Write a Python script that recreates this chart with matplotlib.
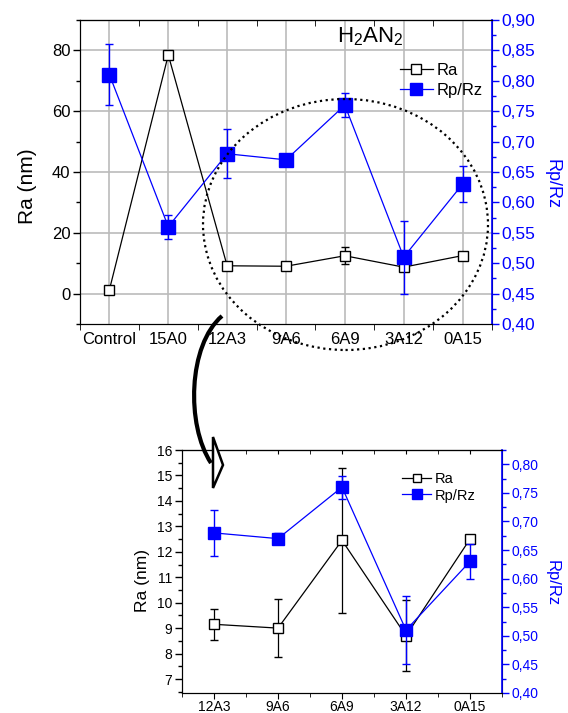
import numpy as np
import matplotlib
matplotlib.use("Agg")
import matplotlib.pyplot as plt
from matplotlib.patches import Ellipse, Polygon, PathPatch
from matplotlib.path import Path
from matplotlib.ticker import MultipleLocator, FuncFormatter, FixedLocator

plt.rcParams['font.family'] = ['Liberation Sans', 'DejaVu Sans']
plt.rcParams['mathtext.fontset'] = 'custom'
plt.rcParams['mathtext.rm'] = 'Liberation Sans'
plt.rcParams['mathtext.it'] = 'Liberation Sans'

# data
samples = ["Control", "15A0", "12A3", "9A6", "6A9", "3A12", "0A15"]
ra = [1.3, 78.5, 9.15, 9.0, 12.45, 8.7, 12.5]
ra_err = [1.0, 1.0, 0.62, 1.13, 2.85, 1.4, 0.08]
rprz = [0.81, 0.56, 0.68, 0.67, 0.76, 0.51, 0.63]
rprz_err = [0.05, 0.02, 0.04, 0.01, 0.02, 0.06, 0.03]

zoom_samples = samples[2:]
zoom_ra = ra[2:]
zoom_ra_err = ra_err[2:]
zoom_rprz = rprz[2:]
zoom_rprz_err = rprz_err[2:]

BLUE = "#0000ff"
W, H = 568, 713
fig = plt.figure(figsize=(W / 100, H / 100), dpi=100)


def px(x0, y0, x1, y1):
    return [x0 / W, 1 - y1 / H, (x1 - x0) / W, (y1 - y0) / H]


def fpt(xp, yp):
    return xp / W, 1 - yp / H


comma = FuncFormatter(lambda v, p: f"{v:.2f}".replace(".", ","))


def style_axes(ax, ax2, fs, fs2):
    ax.tick_params(axis="y", which="major", direction="out", length=5, width=1,
                   labelsize=fs, pad=2)
    ax.tick_params(axis="y", which="minor", direction="out", length=3, width=1)
    ax2.tick_params(axis="y", which="major", direction="out", length=5, width=1,
                    colors=BLUE, labelsize=fs2, pad=2)
    ax2.tick_params(axis="y", which="minor", direction="out", length=3, width=1, colors=BLUE)
    ax2.spines["right"].set_color(BLUE)
    ax2.spines["right"].set_linewidth(1.2)
    ax2.yaxis.set_major_formatter(comma)


# ---------- top chart ----------
ax = fig.add_axes(px(80, 20, 492, 324))
x = np.arange(len(samples))
ax.errorbar(x, ra, yerr=ra_err, color="black", lw=0.9, marker="s", ms=7,
            mfc="white", mec="black", mew=1, capsize=3, elinewidth=0.9, zorder=3)
ax.set_xlim(-0.5, len(samples) - 0.5)
ax.set_ylim(-10, 90)
ax.yaxis.set_major_locator(MultipleLocator(20))
ax.yaxis.set_minor_locator(MultipleLocator(10))
ax.set_xticks(x)
ax.set_xticklabels(samples, fontsize=12)
ax.xaxis.set_minor_locator(FixedLocator(np.arange(-0.5, len(samples), 1.0)))
ax.tick_params(axis="x", which="major", length=0, pad=6)
ax.tick_params(axis="x", which="minor", direction="out", length=4)
ax.grid(True, color="#bbbbbb", lw=1.2, which="major")
ax.set_axisbelow(True)
sec = ax.secondary_xaxis("top")
sec.set_xticks([])
sec.xaxis.set_minor_locator(FixedLocator(np.arange(-0.5, len(samples), 1.0)))
sec.tick_params(axis="x", which="minor", direction="in", length=4)

ax2 = ax.twinx()
ax2.errorbar(x, rprz, yerr=rprz_err, color=BLUE, lw=0.9, marker="s", ms=9.5,
             mfc=BLUE, mec=BLUE, capsize=3, elinewidth=1, zorder=3)
ax2.set_ylim(0.40, 0.90)
ax2.yaxis.set_major_locator(MultipleLocator(0.05))
ax2.yaxis.set_minor_locator(MultipleLocator(0.025))
style_axes(ax, ax2, 12, 12.5)

fig.text(*fpt(28, 186), "Ra (nm)", fontsize=15, rotation=90, ha="center", va="center")
fig.text(*fpt(552, 184), "Rp/Rz", fontsize=13, rotation=270, color=BLUE,
         ha="center", va="center")

h1 = ax.plot([], [], color="black", lw=0.9, marker="s", ms=7, mfc="white", mec="black")[0]
h2 = ax.plot([], [], color=BLUE, lw=0.9, marker="s", ms=8, mfc=BLUE, mec=BLUE)[0]
ax2.legend([h1, h2], ["Ra", "Rp/Rz"], loc="upper left", bbox_to_anchor=(0.76, 0.88),
           frameon=False, fontsize=12, handlelength=2.0, handletextpad=0.2,
           labelspacing=0.3, borderaxespad=0)
ax2.text(0.705, 0.945, r"H$_2$AN$_2$", transform=ax2.transAxes, fontsize=16,
         ha="center", va="center")

# dotted circle around the zoomed region
fig.add_artist(Ellipse((345.5 / W, 1 - 224.5 / H), 285 / W, 251 / H,
                       transform=fig.transFigure, fill=False, ls=(0, (1, 1.6)),
                       lw=1.6, color="black", zorder=10))

# curved arrow pointing to the zoom
verts = [(222, 316), (188, 345), (186, 425), (211, 463)]
verts = [fpt(vx, vy) for vx, vy in verts]
arrow_path = Path(verts, [Path.MOVETO, Path.CURVE4, Path.CURVE4, Path.CURVE4])
fig.add_artist(PathPatch(arrow_path, transform=fig.transFigure, fill=False,
                         lw=3, color="black", zorder=10))
head = [fpt(213, 437), fpt(223, 465), fpt(213, 488)]
fig.add_artist(Polygon(head, closed=True, transform=fig.transFigure,
                       facecolor="white", edgecolor="black", lw=1.8, zorder=11))

# ---------- bottom chart ----------
bx = fig.add_axes(px(182, 450, 502, 693))
xz = np.arange(len(zoom_samples))
bx.errorbar(xz, zoom_ra, yerr=zoom_ra_err, color="black", lw=0.9, marker="s", ms=7,
            mfc="white", mec="black", mew=1, capsize=3, elinewidth=0.9, zorder=3)
bx.set_xlim(-0.5, len(zoom_samples) - 0.5)
bx.set_ylim(6.45, 16)
bx.yaxis.set_major_locator(MultipleLocator(1))
bx.yaxis.set_minor_locator(MultipleLocator(0.5))
bx.set_xticks(xz)
bx.set_xticklabels(zoom_samples, fontsize=10)
bx.xaxis.set_minor_locator(FixedLocator(np.arange(-0.5, len(zoom_samples), 1.0)))
bx.tick_params(axis="x", which="major", direction="out", length=4, pad=1)
bx.tick_params(axis="x", which="minor", direction="out", length=3)
bsec = bx.secondary_xaxis("top")
bsec.set_xticks(xz)
bsec.set_xticklabels([])
bsec.xaxis.set_minor_locator(FixedLocator(np.arange(-0.5, len(zoom_samples), 1.0)))
bsec.tick_params(axis="x", which="both", direction="in", length=3)

bx2 = bx.twinx()
bx2.errorbar(xz, zoom_rprz, yerr=zoom_rprz_err, color=BLUE, lw=0.9, marker="s", ms=8,
             mfc=BLUE, mec=BLUE, capsize=3, elinewidth=1, zorder=3)
bx2.set_ylim(0.40, 0.825)
bx2.yaxis.set_major_locator(MultipleLocator(0.05))
bx2.yaxis.set_minor_locator(MultipleLocator(0.025))
style_axes(bx, bx2, 10, 10)

fig.text(*fpt(142, 581), "Ra (nm)", fontsize=12.5, rotation=90, ha="center", va="center")
fig.text(*fpt(552, 583), "Rp/Rz", fontsize=12, rotation=270, color=BLUE,
         ha="center", va="center")

g1 = bx.plot([], [], color="black", lw=0.9, marker="s", ms=6, mfc="white", mec="black")[0]
g2 = bx.plot([], [], color=BLUE, lw=0.9, marker="s", ms=6.5, mfc=BLUE, mec=BLUE)[0]
bx2.legend([g1, g2], ["Ra", "Rp/Rz"], loc="upper left", bbox_to_anchor=(0.67, 0.935),
           frameon=False, fontsize=10.5, handlelength=2.0, handletextpad=0.2,
           labelspacing=0.2, borderaxespad=0)

fig.savefig("out.png", dpi=100)
